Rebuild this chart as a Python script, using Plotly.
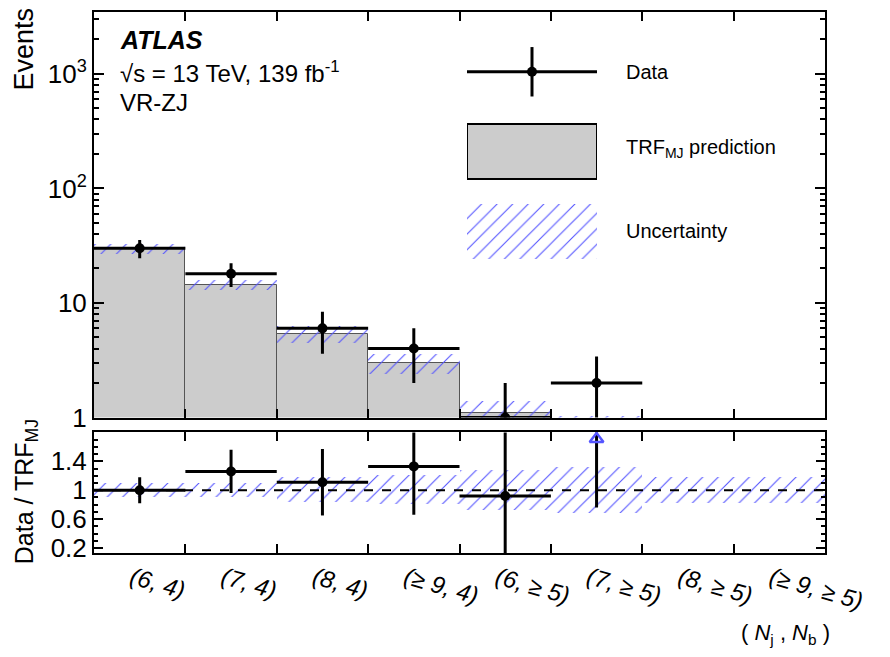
import plotly.graph_objects as go

# ---------------- data ----------------
categories = ["(6, 4)", "(7, 4)", "(8, 4)", "(\u2265 9, 4)",
              "(6, \u2265 5)", "(7, \u2265 5)", "(8, \u2265 5)", "(\u2265 9, \u2265 5)"]
data_events = [30, 18, 6, 4, 1, 2, None, None]
data_err = [5.5, 4.2, 2.4, 2.0, 1.0, 1.4, None, None]
prediction = [30.0, 14.3, 5.35, 3.0, 1.09, 0.78, 0.45, 0.25]
pred_rel_unc = [0.10, 0.10, 0.17, 0.20, 0.28, 0.32, 0.18, 0.18]
ratio = [1.0, 1.26, 1.11, 1.33, 0.92, 2.57, None, None]
ratio_err = [0.18, 0.30, 0.46, 0.67, 0.92, 1.81, None, None]

top_tickvals = [1, 10, 100, 1000]
top_ticktext = ["1", "10", "10<sup>2</sup>", "10<sup>3</sup>"]
ratio_tickvals = [0.2, 0.6, 1.0, 1.4]
ratio_ticktext = ["0.2", "0.6", "1", "1.4"]
ratio_range = [0.13, 1.8]

# bin index positions and bin edges (from the categories)
x_idx = list(range(len(categories)))
edges = [i - 0.5 for i in range(len(categories) + 1)]

# ---------------- geometry helpers ----------------
OFF = 8                      # page body margin
W, H = 890 - OFF, 657 - OFF
L, R, T, B = 94 - OFF, 825 - OFF, 10 - OFF, 553 - OFF


def px_x(p):
    return (p - OFF - L) / (R - L)


def px_y(p):
    return (B - (p - OFF)) / (B - T)


FONT = "Liberation Sans, Arial, Helvetica, sans-serif"
HATCH = "#5555ff"
GRAY = "#cccccc"
hatch_pattern = dict(shape="/", fgcolor=HATCH, bgcolor="rgba(0,0,0,0)",
                     fgopacity=1, size=11, solidity=0.1)

fig = go.Figure()

# ---------------- top panel ----------------
fig.add_trace(go.Bar(
    x=x_idx, y=prediction, width=1,
    marker=dict(color=GRAY, line=dict(color="#555555", width=1)),
    xaxis="x", yaxis="y", showlegend=False, hoverinfo="skip"))

up_lo = [p * (1 - u) for p, u in zip(prediction, pred_rel_unc)]
up_h = [p * 2 * u for p, u in zip(prediction, pred_rel_unc)]
fig.add_trace(go.Bar(
    x=x_idx, y=up_h, base=up_lo, width=1,
    marker=dict(color="rgba(0,0,0,0)", line=dict(width=0), pattern=hatch_pattern),
    xaxis="x", yaxis="y", showlegend=False, hoverinfo="skip"))

fig.add_trace(go.Scatter(
    x=x_idx, y=data_events, mode="markers",
    marker=dict(color="black", size=10),
    error_y=dict(type="data", array=data_err, color="black", thickness=3, width=0),
    error_x=dict(type="constant", value=0.5, color="black", thickness=3, width=0),
    xaxis="x", yaxis="y", showlegend=False, cliponaxis=True))

# ---------------- ratio panel ----------------
r_lo = [1 - u for u in pred_rel_unc]
r_h = [2 * u for u in pred_rel_unc]
fig.add_trace(go.Bar(
    x=x_idx, y=r_h, base=r_lo, width=1,
    marker=dict(color="rgba(0,0,0,0)", line=dict(width=0), pattern=hatch_pattern),
    xaxis="x2", yaxis="y2", showlegend=False, hoverinfo="skip"))

fig.add_trace(go.Scatter(
    x=x_idx, y=ratio, mode="markers",
    marker=dict(color="black", size=10),
    error_y=dict(type="data", array=ratio_err, color="black", thickness=3, width=0),
    error_x=dict(type="constant", value=0.5, color="black", thickness=3, width=0),
    xaxis="x2", yaxis="y2", showlegend=False, cliponaxis=True))

arrow_x = [i for i, r in zip(x_idx, ratio) if r is not None and r > ratio_range[1]]
fig.add_trace(go.Scatter(
    x=arrow_x, y=[ratio_range[1] - 0.09] * len(arrow_x), mode="markers",
    marker=dict(symbol="triangle-up-open", color=HATCH, size=12,
                line=dict(width=2.5, color=HATCH)),
    xaxis="x2", yaxis="y2", showlegend=False, cliponaxis=False))

# ---------------- legend keys (own hidden axes) ----------------
fig.add_trace(go.Scatter(
    x=[0.5], y=[2.5], mode="markers", marker=dict(color="black", size=10),
    error_x=dict(type="constant", value=0.5, color="black", thickness=3, width=0),
    error_y=dict(type="constant", value=0.31, color="black", thickness=3, width=0),
    xaxis="x3", yaxis="y3", showlegend=False, cliponaxis=False))
fig.add_trace(go.Bar(
    x=[0.5], y=[0.7], base=[1.15], width=1,
    marker=dict(color=GRAY, line=dict(color="black", width=2)),
    xaxis="x3", yaxis="y3", showlegend=False, hoverinfo="skip"))
fig.add_trace(go.Bar(
    x=[0.5], y=[0.69], base=[0.155], width=1,
    marker=dict(color="rgba(0,0,0,0)", line=dict(width=0), pattern=hatch_pattern),
    xaxis="x3", yaxis="y3", showlegend=False, hoverinfo="skip"))

axis_common = dict(showline=True, linecolor="black", linewidth=2, mirror="ticks",
                   ticks="inside", tickcolor="black", tickwidth=2, showgrid=False,
                   zeroline=False)
xrange = [edges[0], edges[-1]]
edge_minor = dict(tickmode="array", tickvals=edges[1:-1], ticks="inside", ticklen=9,
                  tickcolor="black", tickwidth=2, showgrid=False)

top_minor = [m * 10 ** d for d in range(0, 4) for m in range(2, 10)]

fig.update_layout(
    width=W, height=H,
    margin=dict(l=L, r=W - R, t=T, b=H - B),
    paper_bgcolor="white", plot_bgcolor="rgba(0,0,0,0)",
    barmode="overlay", bargap=0,
    font=dict(family=FONT, color="black"),
    xaxis=dict(axis_common, domain=[0, 1], anchor="y", range=xrange,
               tickmode="array", tickvals=edges[1:-1], ticklen=9,
               showticklabels=False),
    yaxis=dict(axis_common, type="log", domain=[px_y(417), 1], anchor="x",
               range=[0, 3.54], tickvals=top_tickvals, ticktext=top_ticktext,
               ticklen=10, tickfont=dict(size=26),
               minor=dict(tickvals=top_minor, ticks="inside", ticklen=5,
                          tickcolor="black", tickwidth=2)),
    xaxis2=dict(axis_common, domain=[0, 1], anchor="y2", range=xrange,
                tickmode="array", tickvals=x_idx, ticktext=categories,
                ticks="", minor=edge_minor,
                tickangle=16, ticklabelshift=-8,
                tickfont=dict(size=24, style="italic")),
    yaxis2=dict(axis_common, domain=[0, px_y(432)], anchor="x2",
                range=ratio_range, tickvals=ratio_tickvals,
                ticktext=ratio_ticktext, ticklen=9,
                tickfont=dict(size=26),
                minor=dict(dtick=0.1, tick0=0, ticks="inside", ticklen=4,
                           tickcolor="black", tickwidth=2)),
    xaxis3=dict(domain=[px_x(467), px_x(597)], anchor="y3", range=[0, 1],
                visible=False, fixedrange=True),
    yaxis3=dict(domain=[px_y(270), px_y(30)], anchor="x3", range=[0, 3],
                visible=False, fixedrange=True),
)

fig.add_shape(type="line", xref="x2 domain", x0=0, x1=1, yref="y2", y0=1, y1=1,
              line=dict(color="black", width=2, dash="dash"), layer="above")


def note(text, x, y, size, xanchor="left", yanchor="middle", angle=0):
    fig.add_annotation(text=text, xref="paper", yref="paper", x=px_x(x), y=px_y(y),
                       xanchor=xanchor, yanchor=yanchor, textangle=angle,
                       showarrow=False, font=dict(size=size, family=FONT, color="black"))


note("<b><i>ATLAS</i></b>", 118, 38, 25)
note("\u221as = 13 TeV, 139 fb<sup>-1</sup>", 118, 70, 24)
note("VR-ZJ", 118, 101, 24)
note("Data", 624, 70, 20)
note("TRF<sub>MJ</sub> prediction", 624, 147, 20)
note("Uncertainty", 624, 230, 20)
note("Events", 24, 4, 27, "center", "top", -90)
note("Data / TRF<sub>MJ</sub>", 26, 492, 25, "center", "middle", -90)
note("( <i>N</i><sub>j</sub> , <i>N</i><sub>b</sub> )", 832, 634, 22, "right", "middle")

fig.write_html("out.html")
